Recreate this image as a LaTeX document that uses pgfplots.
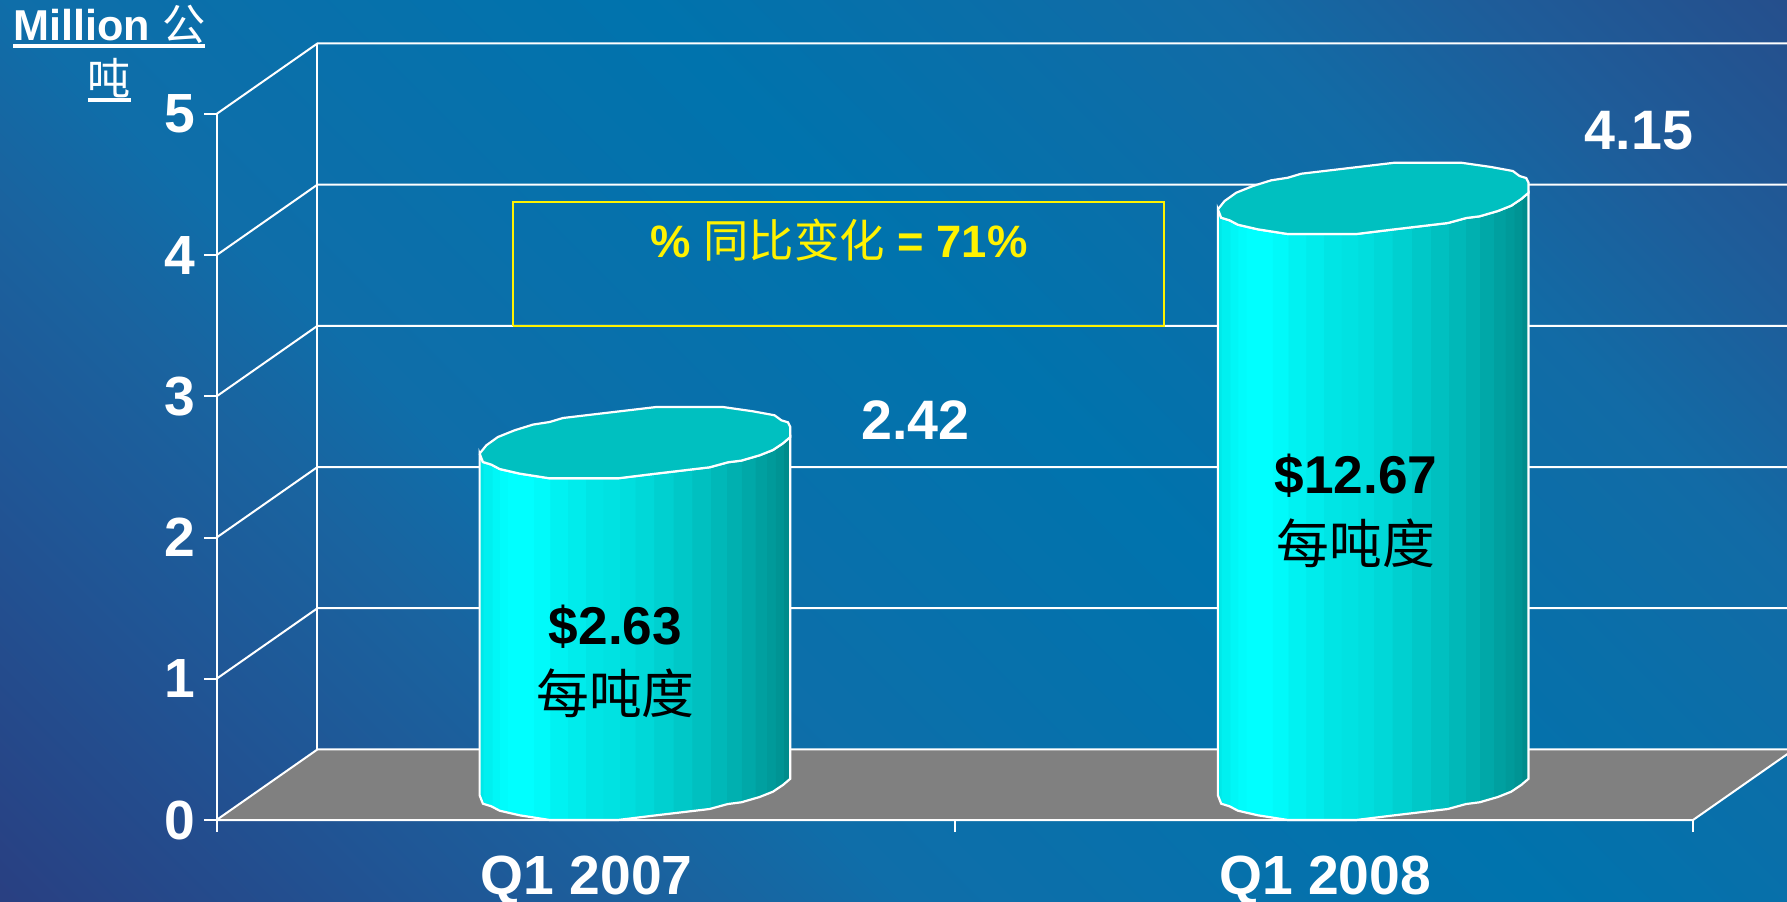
\documentclass[border=0pt]{standalone}
\usepackage{pgfplots}
\usepackage{pgfplotstable}
\usepackage{fontspec}
\pgfplotsset{compat=1.18}
\setmainfont{Liberation Sans}
\newfontfamily\cjk{Noto Sans CJK SC}
\newcommand\fs[1]{\fontsize{#1}{#1}\selectfont\bfseries}
\newsavebox\ulbox
\newcommand\ulx[1]{\sbox\ulbox{#1}\hbox to \wd\ulbox{\rlap{\raisebox{-3.9pt}{\smash{\rule{\wd\ulbox}{2.1pt}}}}\usebox\ulbox}}

\pgfdeclarehorizontalshading{bgs}{100bp}{
 rgb(0bp)=(0.16,0.25,0.51);
 rgb(26.25bp)=(0.16,0.25,0.51);
 rgb(33.75bp)=(0.125,0.335,0.585);
 rgb(38.75bp)=(0.10,0.39,0.625);
 rgb(42.25bp)=(0.059,0.431,0.663);
 rgb(53.5bp)=(0,0.451,0.678);
 rgb(63.75bp)=(0.07,0.42,0.65);
 rgb(68.75bp)=(0.12,0.36,0.60);
 rgb(73.75bp)=(0.145,0.31,0.55);
 rgb(100bp)=(0.145,0.31,0.55)}

\pgfdeclarehorizontalshading{cylb}{100bp}{
 rgb(0bp)=(0,.91,.91); rgb(25.52bp)=(0,.91,.91);
 rgb(25.54bp)=(0,.94,.94); rgb(26.96bp)=(0,.94,.94);
 rgb(26.98bp)=(0,.97,.97); rgb(28.20bp)=(0,.97,.97);
 rgb(28.22bp)=(0,.99,.99); rgb(29.54bp)=(0,.99,.99);
 rgb(29.56bp)=(0,1,1); rgb(33.72bp)=(0,1,1);
 rgb(33.74bp)=(0,.98,.98); rgb(36.30bp)=(0,.98,.98);
 rgb(36.32bp)=(0,.95,.95); rgb(39.14bp)=(0,.95,.95);
 rgb(39.16bp)=(0,.925,.925); rgb(41.99bp)=(0,.925,.925);
 rgb(42.01bp)=(0,.90,.90); rgb(44.83bp)=(0,.90,.90);
 rgb(44.85bp)=(0,.886,.886); rgb(47.51bp)=(0,.886,.886);
 rgb(47.53bp)=(0,.87,.87); rgb(49.98bp)=(0,.87,.87);
 rgb(50bp)=(0,.847,.847); rgb(53.04bp)=(0,.847,.847);
 rgb(53.06bp)=(0,.816,.816); rgb(56.10bp)=(0,.816,.816);
 rgb(56.12bp)=(0,.784,.784); rgb(59.15bp)=(0,.784,.784);
 rgb(59.17bp)=(0,.753,.753); rgb(62.10bp)=(0,.753,.753);
 rgb(62.12bp)=(0,.72,.72); rgb(64.79bp)=(0,.72,.72);
 rgb(64.81bp)=(0,.69,.69); rgb(67.09bp)=(0,.69,.69);
 rgb(67.11bp)=(0,.66,.66); rgb(69.35bp)=(0,.66,.66);
 rgb(69.37bp)=(0,.627,.627); rgb(71.17bp)=(0,.627,.627);
 rgb(71.19bp)=(0,.604,.604); rgb(72.62bp)=(0,.604,.604);
 rgb(72.64bp)=(0,.58,.58); rgb(73.91bp)=(0,.58,.58);
 rgb(73.93bp)=(0,.55,.55); rgb(100bp)=(0,.55,.55)}

\definecolor{floorgray}{HTML}{808080}
\definecolor{capc}{HTML}{00C0C0}

% outline of one cylinder, px offsets from its left edge; lev 0 = floor, lev 1 = bar value
\pgfplotstableread{
dx dy lev
0 24.7 0
3.3 16.3 0
11.7 13.7 0
20 9.3 0
40 4.7 0
70 0 0
138.3 0 0
173.3 4.3 0
230 11 0
248.3 16 0
261.7 17.7 0
280 23 0
293.3 28.3 0
303.3 35 0
310.7 41.3 0
310.7 41.3 1
303.3 35 1
293.3 28.3 1
280 23 1
261.7 17.7 1
248.3 16 1
230 11 1
173.3 4.3 1
138.3 0 1
70 0 1
40 4.7 1
20 9.3 1
11.7 13.7 1
3.3 16.3 1
0 24.7 1
0 24.7 0
}\bodyT
\pgfplotstableread{
dx dy
0 24.7
3.3 16.3
11.7 13.7
20 9.3
40 4.7
70 0
138.3 0
173.3 4.3
230 11
248.3 16
261.7 17.7
280 23
293.3 28.3
303.3 35
310.7 41.3
310.7 51.3
308.3 56
301.7 58
295 63
273.3 67
243.3 71.3
176.7 71.3
83.3 60.3
70 56.3
53.3 53.7
35 48
18.3 41.3
6.7 33
0 24.7
}\capT

\newcommand\cyl[2]{%
 \addplot[draw=white,line width=1.1pt,shading=cylb] table[x expr=#1+(\thisrow{dx}-106)/738.25,y expr=\thisrow{lev}*#2+\thisrow{dy}/141.2]{\bodyT};
 \addplot[draw=white,line width=1.1pt,fill=capc] table[x expr=#1+(\thisrow{dx}-106)/738.25,y expr=#2+\thisrow{dy}/141.2]{\capT};
}

\begin{document}
\begin{tikzpicture}
\path[use as bounding box] (0,0) rectangle (893.5pt,450.5pt);
\clip (0,0) rectangle (893.5pt,450.5pt);
\shade[shading=bgs,shading angle=45] (-53.25pt,-274.75pt) rectangle (946.75pt,725.25pt);
\begin{axis}[
  at={(108.25pt,40.5pt)},anchor=south west,
  scale only axis,width=738.25pt,height=353pt,
  xmin=-0.5,xmax=1.5,ymin=0,ymax=5,
  clip=false,
  axis x line*=bottom,axis y line*=left,
  axis line style={draw=white,line width=1pt,-},
  xtick={0,1},xticklabels={Q1 2007,Q1 2008},
  minor xtick={-0.5,0.5,1.5},
  ytick={0,1,2,3,4,5},yticklabels={0,1,2,3,4,5},
  tick align=outside,
  major tick length=6pt,minor tick length=6pt,
  major x tick style={draw=none},
  minor x tick style={draw=white,line width=1pt},
  y tick style={draw=white,line width=1pt},
  xticklabel style={text=white,font=\fs{27.6},yshift=-8.5pt,xshift=0.6pt},
  yticklabel style={text=white,font=\fs{27.6},xshift=-1pt},
  ylabel={\ulx{Million {\cjk\mdseries 公}}\\[4pt]\ulx{\cjk\mdseries 吨}},
  every axis y label/.style={at={(axis cs:-0.645,5.43)},anchor=center,text=white,font=\fs{21.6},align=center},
]
% floor
\addplot[fill=floorgray,draw=white,line width=1pt] coordinates {(-0.5,0) (-0.3632,0.5) (1.6368,0.5) (1.5,0) (-0.5,0)};
% side wall and back wall gridlines
\addplot[white,line width=1pt] coordinates {(-0.3632,0.5) (-0.3632,5.5)};
\addplot[white,line width=1pt] coordinates {(-0.5,1) (-0.3632,1.5) (1.6368,1.5)};
\addplot[white,line width=1pt] coordinates {(-0.5,2) (-0.3632,2.5) (1.6368,2.5)};
\addplot[white,line width=1pt] coordinates {(-0.5,3) (-0.3632,3.5) (1.6368,3.5)};
\addplot[white,line width=1pt] coordinates {(-0.5,4) (-0.3632,4.5) (1.6368,4.5)};
\addplot[white,line width=1pt] coordinates {(-0.5,5) (-0.3632,5.5) (1.6368,5.5)};
\addplot[white,line width=1pt] coordinates {(-0.5,0) (-0.5,5)};
% the bars
\cyl{0}{2.42}
\cyl{1}{4.15}
% annotation box
\addplot[draw=yellow,line width=1pt] coordinates {(-0.0978,3.4986) (0.7835,3.4986) (0.7835,4.379) (-0.0978,4.379) (-0.0978,3.4986)};
\node[text=yellow,font=\fs{22.7}] at (axis cs:0.3431,4.108) {\% {\cjk\mdseries 同比变化} = 71\%};
\node[text=white,font=\fs{27.8}] at (axis cs:0.447,2.83) {2.42};
\node[text=white,font=\fs{27.8}] at (axis cs:1.4269,4.88) {4.15};
\node[text=black,font=\fs{26.6}] at (axis cs:0.0405,1.369) {\$2.63};
\node[text=black,font=\fs{26.4}] at (axis cs:0.0405,0.899) {\cjk\mdseries 每吨度};
\node[text=black,font=\fs{26.6}] at (axis cs:1.0435,2.436) {\$12.67};
\node[text=black,font=\fs{26.4}] at (axis cs:1.0435,1.957) {\cjk\mdseries 每吨度};
\end{axis}
\end{tikzpicture}
\end{document}
